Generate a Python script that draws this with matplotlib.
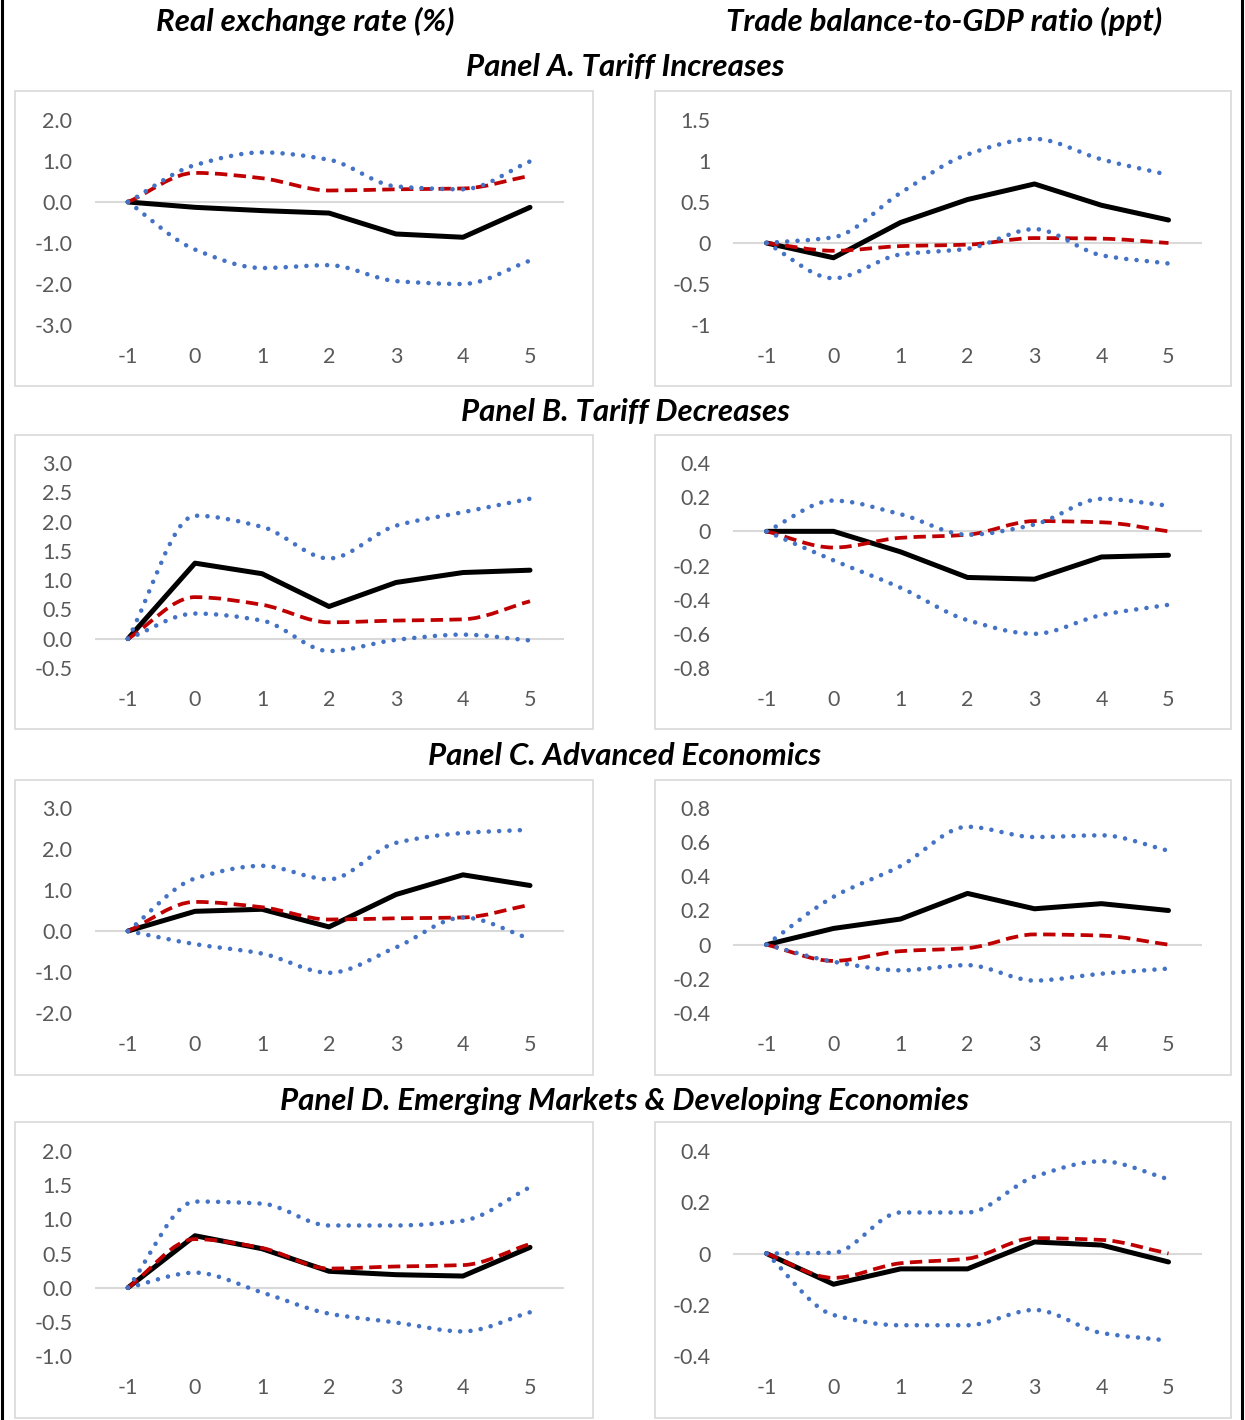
import matplotlib
matplotlib.use("Agg")
import matplotlib.pyplot as plt
from matplotlib.path import Path
from matplotlib.patches import PathPatch, Rectangle
from matplotlib.lines import Line2D

plt.rcParams["font.family"] = ["Lato", "DejaVu Sans"]

W, H = 1245, 1420

horizons = [-1, 0, 1, 2, 3, 4, 5]

col_titles = ["Real exchange rate (%)", "Trade balance-to-GDP ratio (ppt)"]
panel_titles = [
    "Panel A. Tariff Increases",
    "Panel B. Tariff Decreases",
    "Panel C. Advanced Economics",
    "Panel D. Emerging Markets & Developing Economies",
]

# baseline (red dashed) repeated in every panel
rer_base = [0, 0.71, 0.58, 0.28, 0.31, 0.33, 0.64]
tb_base = [0, -0.095, -0.038, -0.02, 0.06, 0.053, 0.0]

# Panel A
rer_a = [0, -0.13, -0.21, -0.27, -0.78, -0.86, -0.13]
rer_a_hi = [0, 0.90, 1.21, 1.03, 0.38, 0.31, 0.99]
rer_a_lo = [0, -1.16, -1.61, -1.54, -1.93, -2.00, -1.43]
tb_a = [0, -0.18, 0.25, 0.53, 0.72, 0.46, 0.28]
tb_a_hi = [0, 0.07, 0.61, 1.08, 1.27, 1.02, 0.83]
tb_a_lo = [0, -0.43, -0.14, -0.07, 0.17, -0.15, -0.25]

# Panel B
rer_b = [0, 1.29, 1.11, 0.55, 0.96, 1.13, 1.17]
rer_b_hi = [0, 2.10, 1.91, 1.37, 1.93, 2.16, 2.39]
rer_b_lo = [0, 0.43, 0.31, -0.21, -0.02, 0.07, -0.03]
tb_b = [0, 0.0, -0.12, -0.27, -0.28, -0.15, -0.14]
tb_b_hi = [0, 0.18, 0.10, -0.02, 0.04, 0.19, 0.15]
tb_b_lo = [0, -0.17, -0.33, -0.52, -0.60, -0.49, -0.43]

# Panel C
rer_c = [0, 0.48, 0.53, 0.10, 0.89, 1.37, 1.11]
rer_c_hi = [0, 1.28, 1.59, 1.26, 2.15, 2.39, 2.47]
rer_c_lo = [0, -0.32, -0.55, -1.02, -0.40, 0.33, -0.19]
tb_c = [0, 0.095, 0.15, 0.30, 0.21, 0.24, 0.20]
tb_c_hi = [0, 0.28, 0.46, 0.69, 0.63, 0.64, 0.55]
tb_c_lo = [0, -0.10, -0.15, -0.12, -0.21, -0.17, -0.14]

# Panel D
rer_d = [0, 0.76, 0.57, 0.24, 0.19, 0.17, 0.59]
rer_d_hi = [0, 1.26, 1.23, 0.91, 0.91, 0.98, 1.47]
rer_d_lo = [0, 0.22, -0.07, -0.38, -0.51, -0.64, -0.36]
tb_d = [0, -0.12, -0.06, -0.06, 0.045, 0.033, -0.033]
tb_d_hi = [0, 0.003, 0.16, 0.16, 0.30, 0.36, 0.29]
tb_d_lo = [0, -0.24, -0.28, -0.28, -0.22, -0.31, -0.34]

rer_ticks = [
    [-3, -2, -1, 0, 1, 2],
    [-0.5, 0, 0.5, 1, 1.5, 2, 2.5, 3],
    [-2, -1, 0, 1, 2, 3],
    [-1, -0.5, 0, 0.5, 1, 1.5, 2],
]
tb_ticks = [
    [-1, -0.5, 0, 0.5, 1, 1.5],
    [-0.8, -0.6, -0.4, -0.2, 0, 0.2, 0.4],
    [-0.4, -0.2, 0, 0.2, 0.4, 0.6, 0.8],
    [-0.4, -0.2, 0, 0.2, 0.4],
]

rer_rows = [(rer_a, rer_a_hi, rer_a_lo), (rer_b, rer_b_hi, rer_b_lo),
            (rer_c, rer_c_hi, rer_c_lo), (rer_d, rer_d_hi, rer_d_lo)]
tb_rows = [(tb_a, tb_a_hi, tb_a_lo), (tb_b, tb_b_hi, tb_b_lo),
           (tb_c, tb_c_hi, tb_c_lo), (tb_d, tb_d_hi, tb_d_lo)]

BLUE = "#4472C4"
RED = "#C00000"
GRAY_TXT = "#595959"
GRID = "#D9D9D9"

TITLE_KW = dict(fontsize=22.5, fontweight="bold", fontstyle="italic",
                ha="center", va="center")


def smooth_path(xs, ys):
    """Smoothed line through the points: shape-preserving cubic segments
    handed to matplotlib as Bezier curves."""
    n = len(xs)
    d = [(ys[i + 1] - ys[i]) / (xs[i + 1] - xs[i]) for i in range(n - 1)]
    m = [0.0] * n
    m[0], m[-1] = d[0], d[-1]
    for i in range(1, n - 1):
        if d[i - 1] * d[i] > 0:
            m[i] = 2.0 / (1.0 / d[i - 1] + 1.0 / d[i])
    verts = [(xs[0], ys[0])]
    codes = [Path.MOVETO]
    for i in range(n - 1):
        h = xs[i + 1] - xs[i]
        verts += [(xs[i] + h / 3, ys[i] + m[i] * h / 3),
                  (xs[i + 1] - h / 3, ys[i + 1] - m[i + 1] * h / 3),
                  (xs[i + 1], ys[i + 1])]
        codes += [Path.CURVE4] * 3
    return Path(verts, codes)


def fmt_tick(v, general):
    if general:
        return f"{round(v, 2):g}"
    return f"{v:.1f}"


fig = plt.figure(figsize=(W / 100, H / 100), dpi=100)
fig.patch.set_facecolor("white")

# outer frame (left/right edges)
for xe in (2, 1242):
    fig.add_artist(Line2D([xe / W, xe / W], [0, 1], color="black", linewidth=2.2,
                          transform=fig.transFigure))

fig.text(305 / W, 1 - 21 / H, col_titles[0], **TITLE_KW)
fig.text(944 / W, 1 - 21 / H, col_titles[1], **TITLE_KW)

title_y = [67, 412, 756, 1101]
box_rows = [(91, 386), (435, 729), (780, 1075), (1122, 1418)]
plot_rows = [(120, 325), (463, 668), (808, 1013), (1151, 1356)]
box_cols = [(15, 593), (655, 1231)]
plot_cols = [(94.5, 563.5), (733, 1202)]

for r in range(4):
    fig.text(625 / W, 1 - title_y[r] / H, panel_titles[r], **TITLE_KW)
    for c in range(2):
        bx0, bx1 = box_cols[c]
        by0, by1 = box_rows[r]
        fig.add_artist(Rectangle((bx0 / W, 1 - by1 / H), (bx1 - bx0) / W, (by1 - by0) / H,
                                 transform=fig.transFigure, fill=False,
                                 edgecolor=GRID, linewidth=1.2))

        px0, px1 = plot_cols[c]
        py0, py1 = plot_rows[r]
        ax = fig.add_axes([px0 / W, 1 - py1 / H, (px1 - px0) / W, (py1 - py0) / H])
        ax.patch.set_alpha(0)

        if c == 0:
            mid, hi, lo = rer_rows[r]
            base = rer_base
            ticks = rer_ticks[r]
        else:
            mid, hi, lo = tb_rows[r]
            base = tb_base
            ticks = tb_ticks[r]

        ax.axhline(0, color=GRID, linewidth=1.5, zorder=1)

        ax.plot(horizons, mid, color="black", linewidth=3.6, zorder=2,
                solid_capstyle="round", solid_joinstyle="round")

        red = PathPatch(smooth_path(horizons, base), fill=False, edgecolor=RED,
                        linewidth=2.7, linestyle=(0, (3.3, 1.7)), zorder=3)
        red.set_capstyle("butt")
        ax.add_patch(red)

        for band in (hi, lo):
            p = PathPatch(smooth_path(horizons, band), fill=False, edgecolor=BLUE,
                          linewidth=3.3, linestyle=(0, (0.01, 2.25)), zorder=4)
            p.set_capstyle("round")
            ax.add_patch(p)

        ax.set_xlim(-1.5, 5.5)
        ax.set_ylim(ticks[0], ticks[-1])
        ax.set_xticks(horizons)
        ax.set_xticklabels([str(h) for h in horizons], fontsize=15.5, color=GRAY_TXT)
        ax.set_yticks(ticks)
        ax.set_yticklabels([fmt_tick(t, c == 1) for t in ticks], fontsize=15.5,
                           color=GRAY_TXT)
        ax.tick_params(axis="both", length=0)
        ax.tick_params(axis="x", pad=16)
        ax.tick_params(axis="y", pad=16)
        for spine in ax.spines.values():
            spine.set_visible(False)

fig.savefig("out.png", dpi=100, facecolor=fig.get_facecolor())
plt.close(fig)
